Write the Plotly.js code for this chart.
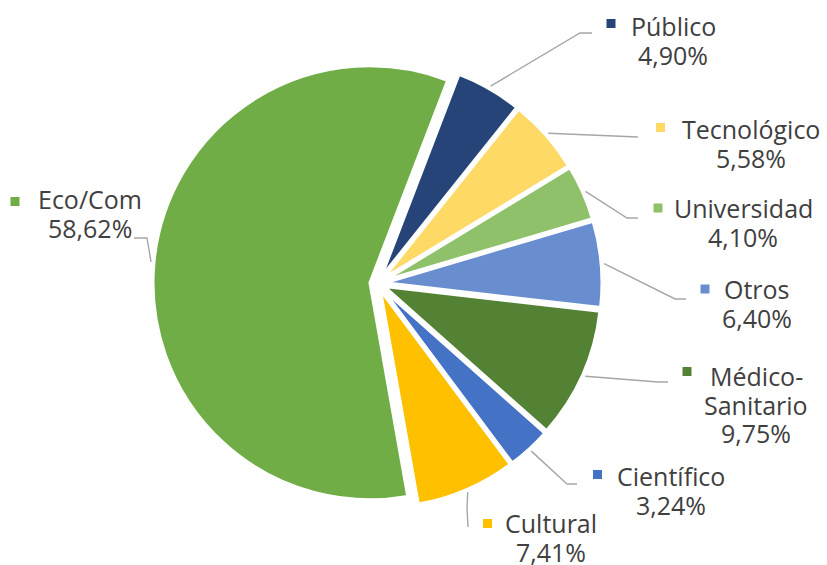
<!DOCTYPE html>
<html><head><meta charset="utf-8">
<script src="https://cdn.plot.ly/plotly-3.0.1.min.js"></script>
<style>html,body{margin:0;padding:0;background:#fff}</style>
</head><body><div id="chart" style="width:827px;height:565px"></div>
<script>
// ---- data ----
const categories = ['Público','Tecnológico','Universidad','Otros','Médico-Sanitario','Científico','Cultural','Eco/Com'];
const shares = [4.90, 5.58, 4.10, 6.40, 9.75, 3.24, 7.41, 58.62];
const sliceColors = ['#264478','#FFD966','#8FC16A','#698ED0','#548235','#4472C4','#FFC000','#70AD47'];

// ---- layout constants (pixels) ----
const W = 827, H = 565;
const CX = 377.5, CY = 283.5, HALF = 224.5;
const PULL = 0.035, ROT = 21;
const R = HALF / (1 + PULL);
const labelX = [673, 751, 743, 756.5, 756, 671, 551, 90];
const labelY = [26, 129, 208, 289, 376, 476, 523, 199];
const LINE_GAP = 28.5;
const keyX = [611, 660.5, 658, 705, 687, 597.5, 487.5, 15];
const keyY = [23.5, 127.5, 208, 289, 371.5, 474.5, 523.5, 201.5];
const elbows = [[580,33],[628,137],[627,218],[675,299],[658,382],[567,484],[467,508],[147,238]];
const ends = [[592,33],[638,137],[638,218],[686,299],[668,382],[577,484],[468,527],[134,238]];

const total = shares.reduce((a,b)=>a+b,0);
const traces = [];
traces.push({
  type:'pie', labels:categories, values:shares, sort:false, direction:'clockwise',
  rotation:ROT, pull:shares.map(()=>PULL),
  marker:{colors:sliceColors, line:{color:'#ffffff', width:3}},
  textinfo:'none', hoverinfo:'none', showlegend:false,
  domain:{x:[(CX-HALF)/W,(CX+HALF)/W], y:[1-(CY+HALF)/H, 1-(CY-HALF)/H]}
});

let cum = 0;
const annotations = [];
const font = {family:'Open Sans, Lato, sans-serif', size:25, color:'#404040'};
shares.forEach((v,i)=>{
  const mid = (ROT + 360*(cum + v/2)/total) * Math.PI/180;
  cum += v;
  const s = Math.sin(mid), c = Math.cos(mid);
  const pcx = CX + PULL*R*s, pcy = CY - PULL*R*c;
  const sx = pcx + (R+3)*s, sy = pcy - (R+3)*c;
  traces.push({type:'scatter', mode:'lines', x:[sx, elbows[i][0], ends[i][0]], y:[sy, elbows[i][1], ends[i][1]],
    line:{color:'#A6A6A6', width:1.4}, hoverinfo:'skip', showlegend:false});
  const name = categories[i];
  const lines = name.includes('-') ? [name.slice(0, name.indexOf('-')+1), name.slice(name.indexOf('-')+1)] : [name];
  lines.push(v.toFixed(2).replace('.', ',') + '%');
  lines.forEach((t,k)=>{
    annotations.push({x:labelX[i], y:labelY[i] + k*LINE_GAP, xref:'x', yref:'y', text:t, showarrow:false,
      xanchor:'center', yanchor:'middle', font:font});
  });
});
traces.push({type:'scatter', mode:'markers', x:keyX, y:keyY,
  marker:{symbol:'square', size:9, color:sliceColors}, hoverinfo:'skip', showlegend:false});

const layout = {
  width:W, height:H, margin:{l:0,r:0,t:0,b:0}, paper_bgcolor:'#fff', plot_bgcolor:'rgba(0,0,0,0)',
  xaxis:{range:[0,W], visible:false, fixedrange:true},
  yaxis:{range:[H,0], visible:false, fixedrange:true},
  annotations:annotations, showlegend:false
};
Plotly.newPlot('chart', traces, layout, {displayModeBar:false, staticPlot:true});
</script></body></html>
